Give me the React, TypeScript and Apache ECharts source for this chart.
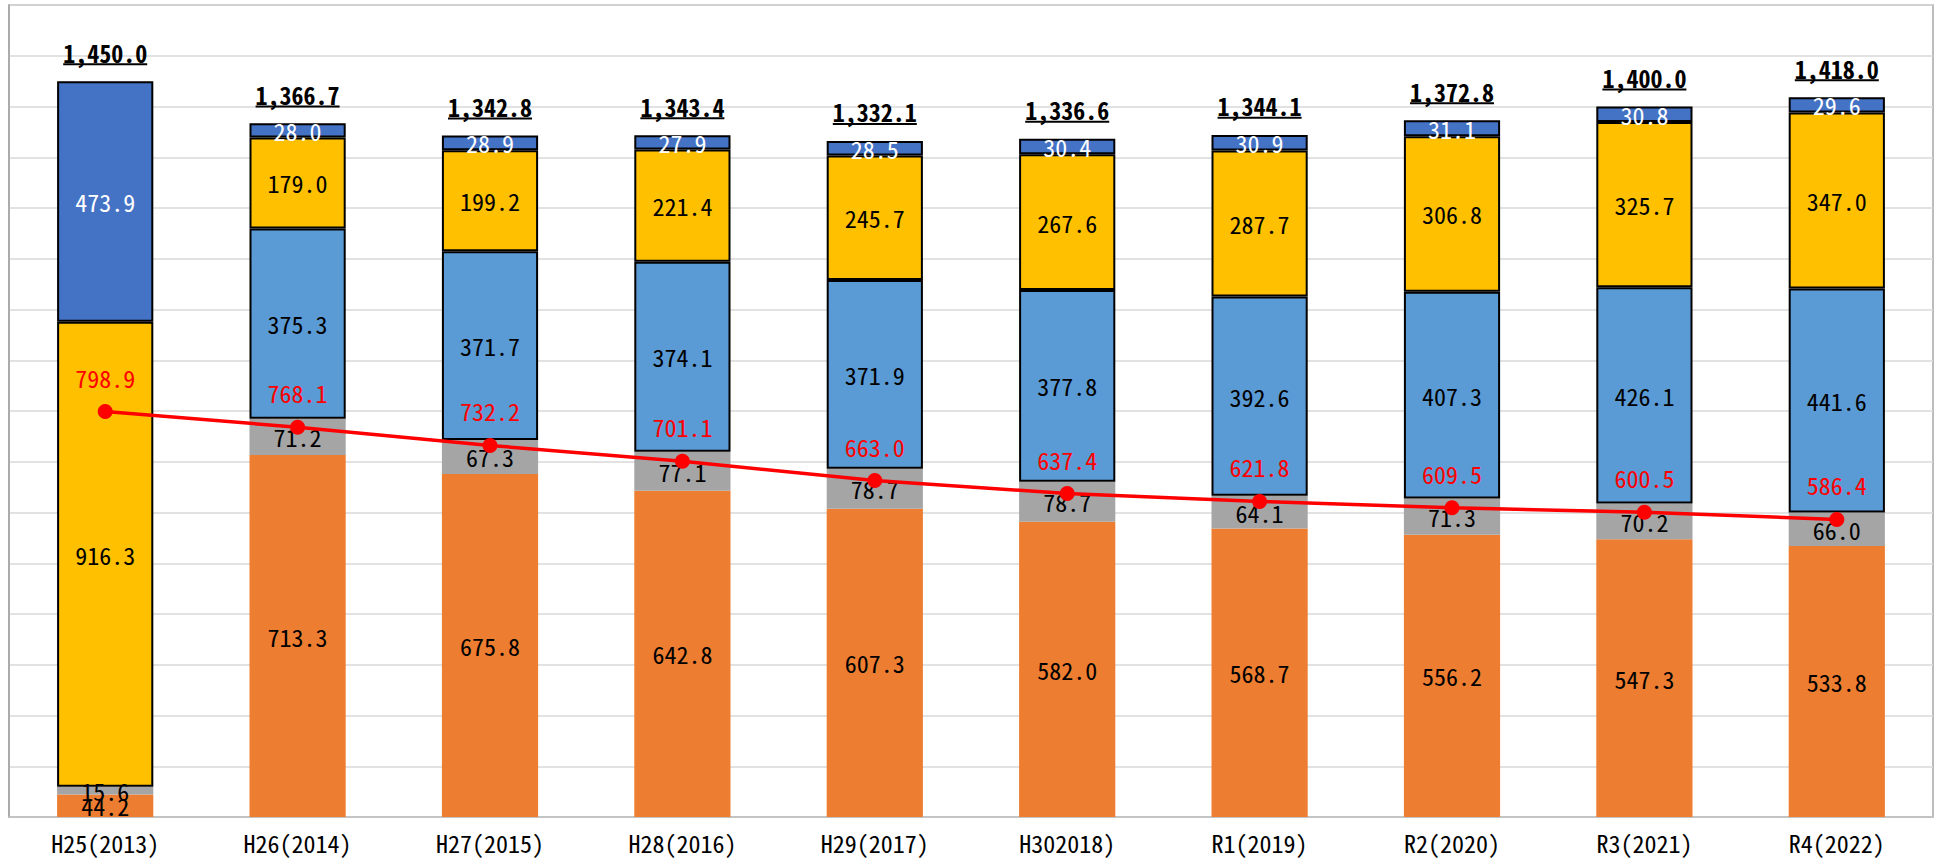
import React, { useEffect, useRef } from "react";
import * as echarts from "echarts";

// Fiscal years (Japanese era + western year)
const categories = [
  "H25(2013)", "H26(2014)", "H27(2015)", "H28(2016)", "H29(2017)",
  "H302018)", "R1(2019)", "R2(2020)", "R3(2021)", "R4(2022)",
];

// Stacked components, bottom to top
const orangeValues = [44.2, 713.3, 675.8, 642.8, 607.3, 582.0, 568.7, 556.2, 547.3, 533.8];
const grayValues = [15.6, 71.2, 67.3, 77.1, 78.7, 78.7, 64.1, 71.3, 70.2, 66.0];
const lightBlueValues = [null, 375.3, 371.7, 374.1, 371.9, 377.8, 392.6, 407.3, 426.1, 441.6];
const yellowValues = [916.3, 179.0, 199.2, 221.4, 245.7, 267.6, 287.7, 306.8, 325.7, 347.0];
const darkBlueValues = [473.9, 28.0, 28.9, 27.9, 28.5, 30.4, 30.9, 31.1, 30.8, 29.6];

// Stack totals shown above each bar
const totalValues = [1450.0, 1366.7, 1342.8, 1343.4, 1332.1, 1336.6, 1344.1, 1372.8, 1400.0, 1418.0];

// Trend line drawn over the bars
const lineValues = [798.9, 768.1, 732.2, 701.1, 663.0, 637.4, 621.8, 609.5, 600.5, 586.4];

const FONT = '"Noto Sans Mono CJK JP", "Liberation Sans Narrow", "DejaVu Sans Condensed", sans-serif';
const FONT_SIZE = 24;

const measureCtx = (() => {
  const c = document.createElement("canvas");
  return c.getContext("2d");
})();

function textWidth(text: string, font: string): number {
  if (!measureCtx) return text.length * FONT_SIZE * 0.5;
  measureCtx.font = font;
  return measureCtx.measureText(text).width;
}

const fmt1 = (v: number) => v.toFixed(1);
const fmtTotal = (v: number) =>
  v.toLocaleString("en-US", { minimumFractionDigits: 1, maximumFractionDigits: 1 });

function barSeries(name: string, data: (number | null)[], color: string, bordered: boolean, labelColor: string) {
  return {
    name,
    type: "bar",
    stack: "total",
    barWidth: "50%",
    data,
    itemStyle: {
      color,
      borderColor: bordered ? "#000000" : color,
      borderWidth: bordered ? 2 : 0,
    },
    label: {
      show: true,
      position: "inside",
      color: labelColor,
      fontFamily: FONT,
      fontSize: FONT_SIZE,
      formatter: (p: any) => (p.value == null ? "" : fmt1(p.value)),
    },
    z: 2,
  };
}

export default function App() {
  const ref = useRef<HTMLDivElement>(null);

  useEffect(() => {
    document.body.style.margin = "0";
    if (!ref.current) return;
    const chart = echarts.init(ref.current, null, { renderer: "svg" });

    const boldFont = `bold ${FONT_SIZE}px ${FONT}`;

    chart.setOption({
      animation: false,
      backgroundColor: "#ffffff",
      grid: {
        left: 9,
        right: 2,
        top: 5,
        bottom: 42,
        show: true,
        borderColor: "#a6a6a6",
        borderWidth: 1.5,
      },
      xAxis: {
        type: "category",
        data: categories,
        axisTick: { show: false },
        axisLine: { lineStyle: { color: "#bfbfbf", width: 1.5 } },
        axisLabel: {
          color: "#000000",
          fontFamily: FONT,
          fontSize: 24,
          margin: 13,
        },
      },
      yAxis: {
        type: "value",
        min: 0,
        max: 1600,
        interval: 100,
        axisLabel: { show: false },
        axisTick: { show: false },
        axisLine: { show: true, lineStyle: { color: "#a6a6a6", width: 1.5 } },
        splitLine: { lineStyle: { color: "#d9d9d9", width: 1.5 } },
      },
      series: [
        barSeries("orange", orangeValues, "#ED7D31", false, "#000000"),
        barSeries("gray", grayValues, "#A5A5A5", false, "#000000"),
        barSeries("lightblue", lightBlueValues, "#5B9BD5", true, "#000000"),
        barSeries("yellow", yellowValues, "#FFC000", true, "#000000"),
        barSeries("darkblue", darkBlueValues, "#4472C4", true, "#ffffff"),
        {
          name: "trend",
          type: "line",
          data: lineValues,
          symbol: "circle",
          symbolSize: 15,
          lineStyle: { color: "#FF0000", width: 3.5 },
          itemStyle: { color: "#FF0000" },
          label: {
            show: true,
            position: "top",
            distance: 15,
            color: "#FF0000",
            fontFamily: FONT,
            fontSize: FONT_SIZE,
            formatter: (p: any) => fmt1(p.value),
          },
          z: 5,
        },
        {
          name: "total",
          type: "custom",
          data: totalValues.map((v, i) => [i, v]),
          z: 6,
          renderItem: (params: any, api: any) => {
            const pt = api.coord([api.value(0), api.value(1)]);
            const txt = fmtTotal(api.value(1));
            const w = textWidth(txt, boldFont);
            return {
              type: "group",
              children: [
                {
                  type: "text",
                  x: pt[0],
                  y: pt[1] - 29,
                  style: {
                    text: txt,
                    fill: "#000000",
                    font: boldFont,
                    align: "center",
                    verticalAlign: "middle",
                  },
                },
                {
                  type: "line",
                  shape: {
                    x1: pt[0] - w / 2,
                    y1: pt[1] - 17,
                    x2: pt[0] + w / 2,
                    y2: pt[1] - 17,
                  },
                  style: { stroke: "#000000", lineWidth: 2 },
                },
              ],
            };
          },
        },
      ],
    });

    return () => chart.dispose();
  }, []);

  return <div ref={ref} style={{ width: 1935, height: 859 }} />;
}
